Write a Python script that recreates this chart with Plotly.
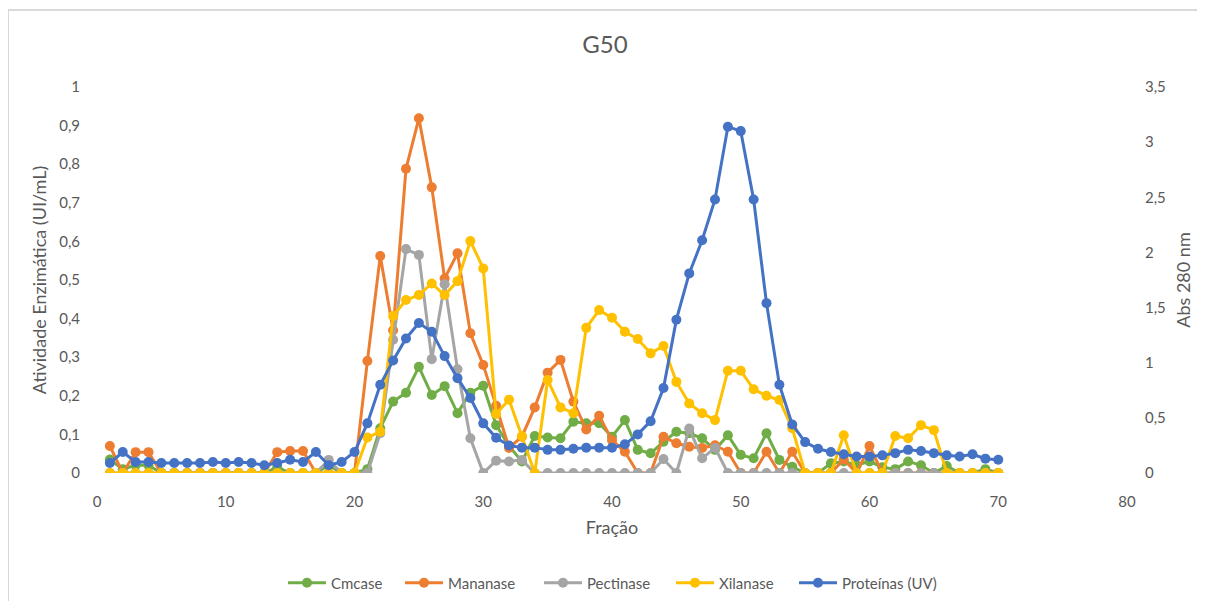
import plotly.graph_objects as go

fracao = list(range(1, 71))

cmcase = [0.035, 0.01, 0.02, 0.02, 0, 0, 0, 0, 0, 0,
          0, 0, 0, 0.015, 0, 0, 0, 0.02, 0, 0,
          0.01, 0.116, 0.185, 0.208, 0.275, 0.202, 0.225, 0.155, 0.208, 0.226,
          0.124, 0.07, 0.03, 0.096, 0.092, 0.09, 0.133, 0.129, 0.129, 0.094,
          0.137, 0.06, 0.051, 0.081, 0.107, 0.103, 0.09, 0.06, 0.098, 0.047,
          0.038, 0.103, 0.034, 0.016, 0, 0, 0.025, 0.03, 0.02, 0.03,
          0.015, 0.01, 0.03, 0.02, 0, 0.018, 0, 0, 0.01, 0]

mananase = [0.07, 0, 0.054, 0.054, 0, 0, 0, 0, 0, 0,
            0, 0, 0, 0.054, 0.057, 0.057, 0, 0, 0, 0,
            0.29, 0.562, 0.37, 0.788, 0.919, 0.74, 0.504, 0.569, 0.362, 0.28,
            0.174, 0.065, 0.094, 0.17, 0.26, 0.293, 0.185, 0.113, 0.148, 0.085,
            0.055, 0, 0, 0.094, 0.077, 0.068, 0.065, 0.072, 0.055, 0,
            0, 0.055, 0, 0.055, 0, 0, 0, 0.035, 0, 0.07,
            0, 0, 0, 0, 0, 0, 0, 0, 0, 0]

pectinase = [0, 0, 0, 0, 0, 0, 0, 0, 0, 0,
             0, 0, 0, 0, 0, 0, 0, 0.034, 0, 0,
             0, 0.103, 0.345, 0.58, 0.565, 0.295, 0.489, 0.269, 0.09, 0,
             0.032, 0.03, 0.034, 0, 0, 0, 0, 0, 0, 0,
             0, 0, 0, 0.036, 0, 0.115, 0.038, 0.065, 0, 0,
             0, 0, 0, 0, 0, 0, 0, 0, 0, 0,
             0, 0, 0, 0, 0, 0, 0, 0, 0, 0]

xilanase = [0, 0, 0, 0, 0, 0, 0, 0, 0, 0,
            0, 0, 0, 0, 0, 0, 0, 0, 0, 0,
            0.092, 0.107, 0.407, 0.448, 0.461, 0.491, 0.461, 0.497, 0.601, 0.53,
            0.153, 0.19, 0.095, 0, 0.241, 0.17, 0.155, 0.376, 0.422, 0.402,
            0.366, 0.347, 0.31, 0.329, 0.236, 0.18, 0.155, 0.137, 0.265, 0.265,
            0.217, 0.2, 0.189, 0.116, 0, 0, 0, 0.098, 0, 0,
            0, 0.096, 0.09, 0.124, 0.111, 0, 0, 0, 0, 0]

proteinas = [0.09, 0.19, 0.10, 0.10, 0.09, 0.09, 0.09, 0.09, 0.10, 0.09,
             0.10, 0.09, 0.07, 0.09, 0.12, 0.10, 0.19, 0.07, 0.10, 0.19,
             0.45, 0.80, 1.02, 1.22, 1.36, 1.28, 1.06, 0.86, 0.68, 0.45,
             0.32, 0.25, 0.23, 0.23, 0.21, 0.21, 0.22, 0.23, 0.23, 0.23,
             0.26, 0.35, 0.47, 0.77, 1.39, 1.81, 2.11, 2.48, 3.14, 3.10,
             2.48, 1.54, 0.80, 0.44, 0.28, 0.22, 0.19, 0.17, 0.15, 0.15,
             0.16, 0.18, 0.21, 0.20, 0.18, 0.16, 0.15, 0.17, 0.13, 0.12]

left_ticks = [0, 0.1, 0.2, 0.3, 0.4, 0.5, 0.6, 0.7, 0.8, 0.9, 1]
right_ticks = [0, 0.5, 1, 1.5, 2, 2.5, 3, 3.5]
x_ticks = [0, 10, 20, 30, 40, 50, 60, 70, 80]

series_names = ["Cmcase", "Mananase", "Pectinase", "Xilanase", "Proteínas (UV)"]
series_values = [cmcase, mananase, pectinase, xilanase, proteinas]
series_colors = ["#70ad47", "#ed7d31", "#a5a5a5", "#ffc000", "#4472c4"]
series_axes = ["y", "y", "y", "y", "y2"]
legend_ids = ["legend", "legend2", "legend3", "legend4", "legend5"]
# page-pixel left edges of each legend entry (plot area spans 97..1127 px)
legend_px = [283, 400, 539, 671, 794]

FONT = "Lato, 'Open Sans', sans-serif"
GREY = "#595959"

# the page body has an ~8px margin; size the figure so it fits the window
W, H = 1190, 593
PL, PR, PT, PB = 97, 1127, 87, 473   # desired page pixel positions of plot area
OFF = 8

fig = go.Figure()
for name, vals, color, yax, lid in zip(series_names, series_values, series_colors,
                                        series_axes, legend_ids):
    fig.add_trace(go.Scatter(
        x=fracao, y=vals, name=name, yaxis=yax, mode="lines+markers",
        line=dict(color=color, width=3),
        marker=dict(color=color, size=10),
        legend=lid,
    ))

def fmt(v):
    return ("%g" % v).replace(".", ",")

legend_layouts = {}
for lid, px in zip(legend_ids, legend_px):
    legend_layouts[lid] = dict(
        orientation="h", x=(px - PL) / (PR - PL), xanchor="left",
        y=(PB - 583) / (PB - PT), yanchor="middle",
        font=dict(size=15, color=GREY, family=FONT),
        bgcolor="rgba(0,0,0,0)", itemwidth=38,
    )

fx0 = (8 - PL) / (PR - PL)
fx1 = (1240 - PL) / (PR - PL)
fy_top = (PB - 10) / (PB - PT)
fy_bot = (PB - 650) / (PB - PT)

fig.update_layout(
    width=W, height=H,
    paper_bgcolor="white", plot_bgcolor="white",
    margin=dict(l=PL - OFF, r=W - (PR - OFF), t=PT - OFF, b=H - (PB - OFF), autoexpand=False),
    font=dict(family=FONT, color=GREY, size=15),
    title=dict(text="G50", x=(605 - OFF) / W, xanchor="center",
               y=1 - (45 - OFF) / H, yanchor="middle",
               font=dict(size=24, color=GREY, family=FONT)),
    showlegend=True,
    xaxis=dict(range=[0, 80], tickvals=x_ticks, ticktext=[str(t) for t in x_ticks],
               showgrid=False, zeroline=False, showline=False,
               ticks="outside", ticklen=15, tickcolor="rgba(0,0,0,0)",
               title=dict(text="Fração", font=dict(size=18, color=GREY), standoff=12),
               tickfont=dict(size=15, color=GREY)),
    yaxis=dict(range=[0, 1], tickvals=left_ticks, ticktext=[fmt(t) for t in left_ticks],
               showgrid=False, zeroline=False, showline=False,
               ticks="outside", ticklen=13, tickcolor="rgba(0,0,0,0)",
               title=dict(text="Atividade Enzimática (UI/mL)", font=dict(size=18, color=GREY), standoff=7),
               tickfont=dict(size=15, color=GREY)),
    yaxis2=dict(range=[0, 3.5], tickvals=right_ticks, ticktext=[fmt(t) for t in right_ticks],
                overlaying="y", side="right",
                showgrid=False, zeroline=False, showline=False,
                ticks="outside", ticklen=14, tickcolor="rgba(0,0,0,0)",
                title=dict(text="Abs 280 nm", font=dict(size=18, color=GREY), standoff=12),
                tickfont=dict(size=15, color=GREY)),
    shapes=[
        dict(type="line", xref="paper", yref="paper", x0=fx0, x1=fx1, y0=fy_top, y1=fy_top,
             line=dict(color="#d9d9d9", width=2), layer="below"),
        dict(type="line", xref="paper", yref="paper", x0=fx0, x1=fx0, y0=fy_bot, y1=fy_top,
             line=dict(color="#d9d9d9", width=2), layer="below"),
    ],
    **legend_layouts,
)

fig.write_html("out.html")
